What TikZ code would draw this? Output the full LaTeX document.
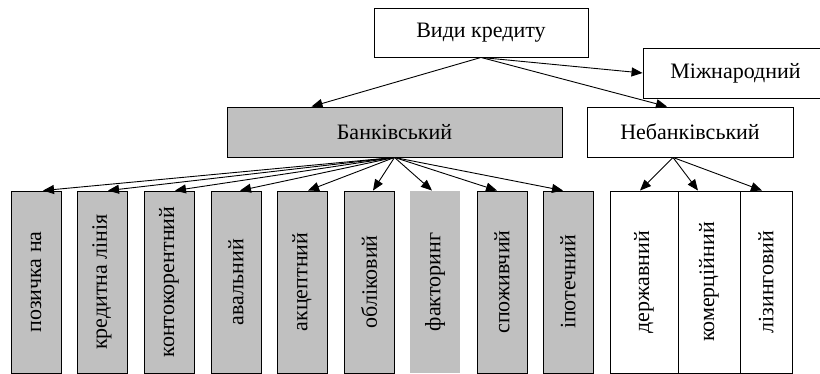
\documentclass[tikz,border=0pt]{standalone}
\usepackage{fontspec}
\setmainfont{Liberation Serif}
\newfontfamily\tnr{Liberation Serif}
\usetikzlibrary{arrows.meta}
\definecolor{boxgray}{HTML}{C0C0C0}
\begin{document}
\begin{tikzpicture}[x=1pt,y=-1pt,
  box/.style={draw=black, line width=0.9pt, rectangle, inner sep=0pt, font=\tnr\fontsize{22}{24}\selectfont},
  vbox/.style={box, minimum width=50pt, minimum height=182pt},
  gbox/.style={fill=boxgray},
  arr/.style={-{Triangle[length=11pt,width=9pt]}, line width=0.9pt}]
\useasboundingbox (0,0) rectangle (820,373);
\clip (0,0) rectangle (820,373);
\node[box, minimum width=214pt, minimum height=49pt] (top) at (481,32.5) {Види кредиту};
\node[box, minimum width=185pt, minimum height=50pt] (intl) at (735.5,73) {Міжнародний};
\node[box, gbox, minimum width=335pt, minimum height=50pt] (bank) at (394.5,132) {Банківський};
\node[box, minimum width=206pt, minimum height=50pt] (nbank) at (690,132) {Небанківський};
\node[vbox, gbox] (b1) at (36,282) {\rotatebox{90}{позичка на}};
\node[vbox, gbox] (b2) at (102,282) {\rotatebox{90}{кредитна лінія}};
\node[vbox, gbox] (b3) at (169,282) {\rotatebox{90}{контокорентний}};
\node[vbox, gbox] (b4) at (236,282) {\rotatebox{90}{авальний}};
\node[vbox, gbox] (b5) at (302,282) {\rotatebox{90}{акцептний}};
\node[vbox, gbox] (b6) at (369,282) {\rotatebox{90}{обліковий}};
\node[vbox, gbox, draw=none] (b7) at (435,282) {\rotatebox{90}{факторинг}};
\node[vbox, gbox] (b8) at (502,282) {\rotatebox{90}{споживчий}};
\node[vbox, gbox] (b9) at (568,282) {\rotatebox{90}{іпотечний}};
\node[vbox, minimum width=68pt] (n1) at (644,282) {\rotatebox{90}{державний}};
\node[vbox, minimum width=62pt] (n2) at (709,282) {\rotatebox{90}{комерційний}};
\node[vbox, minimum width=52pt] (n3) at (766,282) {\rotatebox{90}{лізинговий}};
\draw[arr] (top.south) -- ([xshift=-83pt]bank.north);
\draw[arr] (top.south) -- (intl.west);
\draw[arr] (top.south) -- ([xshift=-23pt]nbank.north);
\draw[arr] (bank.south) -- ([xshift=7pt]b1.north);
\draw[arr] (bank.south) -- ([xshift=6pt]b2.north);
\draw[arr] (bank.south) -- ([xshift=6pt]b3.north);
\draw[arr] (bank.south) -- ([xshift=4pt]b4.north);
\draw[arr] (bank.south) -- ([xshift=6pt]b5.north);
\draw[arr] (bank.south) -- ([xshift=4pt]b6.north);
\draw[arr] (bank.south) -- ([xshift=-3pt]b7.north);
\draw[arr] (bank.south) -- ([xshift=-5pt]b8.north);
\draw[arr] (bank.south) -- ([xshift=-5pt]b9.north);
\draw[arr] ([xshift=-17pt]nbank.south) -- ([xshift=-4pt]n1.north);
\draw[arr] ([xshift=-17pt]nbank.south) -- ([xshift=-11pt]n2.north);
\draw[arr] ([xshift=-17pt]nbank.south) -- ([xshift=-4pt]n3.north);
\end{tikzpicture}
\end{document}
